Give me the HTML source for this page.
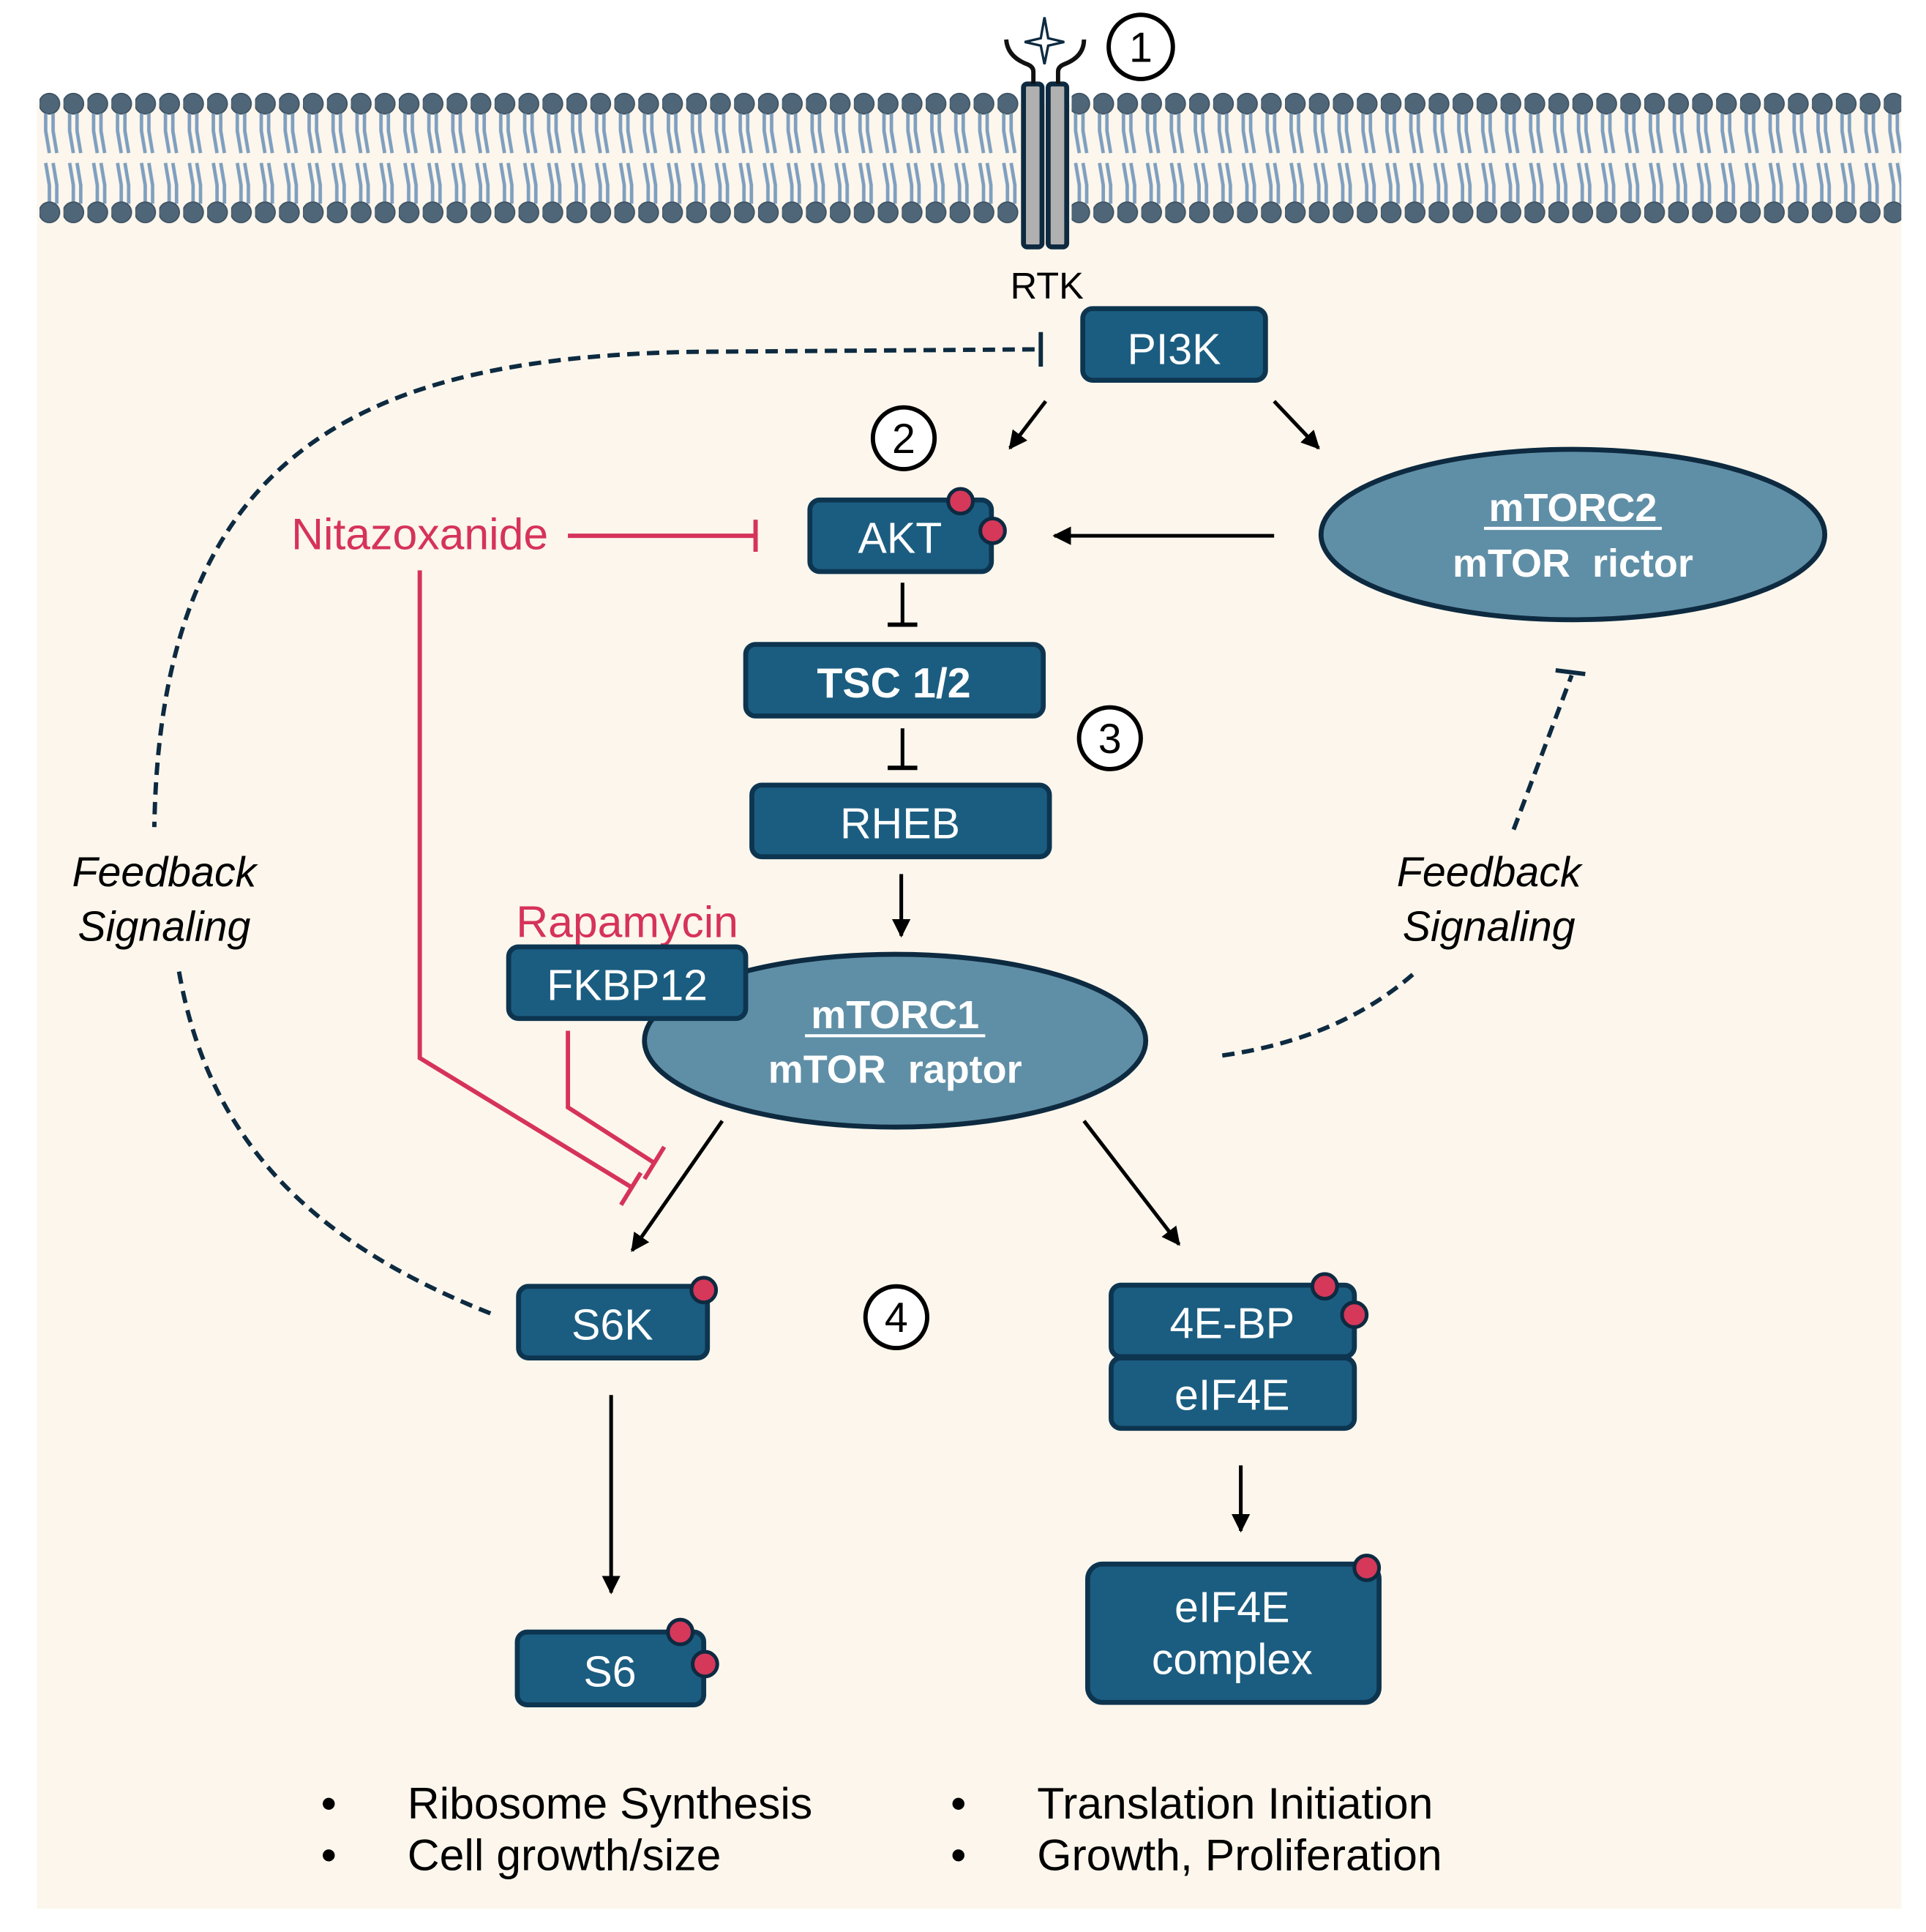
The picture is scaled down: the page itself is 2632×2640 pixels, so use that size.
<!DOCTYPE html>
<html><head><meta charset="utf-8"><style>
html,body{margin:0;padding:0;background:#fff;}
svg{display:block;}
text{font-family:"Liberation Sans",sans-serif;}
</style></head><body>
<svg width="2632" height="2640" viewBox="0 0 1560 1565" preserveAspectRatio="none" xmlns="http://www.w3.org/2000/svg">
<defs>
<pattern id="lip" x="32" y="0" width="19.4" height="200" patternUnits="userSpaceOnUse">
<circle cx="8" cy="84" r="8.3" fill="#4f6679" stroke="#3c5060" stroke-width="1"/>
<path d="M5 92 V106 L8 124 M11 92 V106 L14 124" stroke="#7f9fbf" stroke-width="2.8" fill="none"/>
<path d="M5 132 L8 150 V165 M11 132 L14 150 V165" stroke="#7f9fbf" stroke-width="2.8" fill="none"/>
<circle cx="8" cy="172" r="8.3" fill="#4f6679" stroke="#3c5060" stroke-width="1"/>
</pattern>
<marker id="ar" viewBox="0 0 10 10" refX="9" refY="5" markerWidth="5" markerHeight="5" orient="auto-start-reverse">
<path d="M0 0 L10 5 L0 10 Z" fill="#000"/></marker>
</defs>
<rect x="30" y="84" width="1510" height="1462" fill="#fcf6ec"/>
<rect x="30" y="70" width="795" height="115" fill="url(#lip)"/>
<rect x="868" y="70" width="672" height="115" fill="url(#lip)"/>
<!-- receptor -->
<rect x="829" y="68" width="15" height="132" rx="3" fill="#b0b0b0" stroke="#0d2a40" stroke-width="4"/>
<rect x="849" y="68" width="15" height="132" rx="3" fill="#b0b0b0" stroke="#0d2a40" stroke-width="4"/>
<path d="M837 68 V58 Q837 54 832 52 Q816 46 815 32 M857 68 V58 Q857 54 862 52 Q878 46 878 32" stroke="#111" stroke-width="3.5" fill="none"/>
<path d="M846 14 L849 31 L862 34 L849 37 L846 52 L843 37 L830 34 L843 31 Z" fill="#fff" stroke="#0d2a40" stroke-width="2"/>
<circle cx="924" cy="38" r="26" fill="#fff" stroke="#000" stroke-width="3.5"/>
<text x="924" y="50" font-size="34" text-anchor="middle">1</text>
<text x="848" y="242" font-size="30" text-anchor="middle">RTK</text>
<!-- dashed feedback left top -->
<path d="M838 283 L560 285 C300 290 130 360 125 670" fill="none" stroke="#0d2a40" stroke-width="3.5" stroke-dasharray="10 6"/>
<line x1="843" y1="269" x2="843" y2="297" stroke="#0d2a40" stroke-width="3.5"/>
<path d="M145 787 C170 930 260 1010 400 1065" fill="none" stroke="#0d2a40" stroke-width="3.5" stroke-dasharray="10 6"/>
<!-- right dashed -->
<path d="M990 855 C1060 845 1110 820 1147 787" fill="none" stroke="#0d2a40" stroke-width="3.5" stroke-dasharray="10 6"/>
<path d="M1226 672 L1273 547" fill="none" stroke="#0d2a40" stroke-width="3.5" stroke-dasharray="10 6"/>
<line x1="1260" y1="543" x2="1284" y2="546" stroke="#0d2a40" stroke-width="3.5"/>
<!-- PI3K -->
<rect x="877" y="250" width="148" height="58" rx="8" fill="#1b5d80" stroke="#0d3550" stroke-width="4"/>
<text x="951" y="295" font-size="35" fill="#fff" text-anchor="middle">PI3K</text>
<line x1="847" y1="325" x2="818" y2="363" stroke="#000" stroke-width="3" marker-end="url(#ar)"/>
<line x1="1032" y1="325" x2="1068" y2="363" stroke="#000" stroke-width="3" marker-end="url(#ar)"/>
<circle cx="732" cy="355" r="25" fill="#fff" stroke="#000" stroke-width="3.5"/>
<text x="732" y="367" font-size="34" text-anchor="middle">2</text>
<!-- mTORC2 -->
<ellipse cx="1274" cy="433" rx="204" ry="69" fill="#5f8fa6" stroke="#0d2a40" stroke-width="4"/>
<text x="1274" y="422" font-size="32" font-weight="bold" fill="#fff" text-anchor="middle">mTORC2</text>
<line x1="1202" y1="428" x2="1346" y2="428" stroke="#fff" stroke-width="2.5"/>
<text x="1274" y="467" font-size="32" font-weight="bold" fill="#fff" text-anchor="middle">mTOR&#160;&#160;rictor</text>
<line x1="1032" y1="434" x2="854" y2="434" stroke="#000" stroke-width="3" marker-end="url(#ar)"/>
<!-- AKT -->
<rect x="656" y="405" width="147" height="58" rx="8" fill="#1b5d80" stroke="#0d3550" stroke-width="4"/>
<text x="729" y="448" font-size="35" fill="#fff" text-anchor="middle">AKT</text>
<circle cx="778" cy="406" r="10" fill="#d6385a" stroke="#0d2a40" stroke-width="3"/>
<circle cx="804" cy="430" r="10" fill="#d6385a" stroke="#0d2a40" stroke-width="3"/>
<text x="340" y="445" font-size="36" fill="#d6335a" text-anchor="middle">Nitazoxanide</text>
<line x1="460" y1="434" x2="612" y2="434" stroke="#d6335a" stroke-width="3.5"/>
<line x1="612" y1="421" x2="612" y2="447" stroke="#d6335a" stroke-width="3.5"/>
<!-- T inhibit -->
<line x1="731" y1="472" x2="731" y2="506" stroke="#000" stroke-width="3"/>
<line x1="719" y1="506" x2="743" y2="506" stroke="#000" stroke-width="3.5"/>
<rect x="604" y="522" width="241" height="58" rx="8" fill="#1b5d80" stroke="#0d3550" stroke-width="4"/>
<text x="724" y="565" font-size="34" font-weight="bold" fill="#fff" text-anchor="middle">TSC 1/2</text>
<circle cx="899" cy="598" r="25" fill="#fff" stroke="#000" stroke-width="3.5"/>
<text x="899" y="610" font-size="34" text-anchor="middle">3</text>
<line x1="731" y1="590" x2="731" y2="622" stroke="#000" stroke-width="3"/>
<line x1="719" y1="622" x2="743" y2="622" stroke="#000" stroke-width="3.5"/>
<rect x="609" y="636" width="241" height="58" rx="8" fill="#1b5d80" stroke="#0d3550" stroke-width="4"/>
<text x="729" y="679" font-size="35" fill="#fff" text-anchor="middle">RHEB</text>
<line x1="730" y1="708" x2="730" y2="758" stroke="#000" stroke-width="3" marker-end="url(#ar)"/>
<!-- feedback labels -->
<text x="133" y="718" font-size="34" font-style="italic" text-anchor="middle">Feedback</text>
<text x="133" y="762" font-size="34" font-style="italic" text-anchor="middle">Signaling</text>
<text x="1206" y="718" font-size="34" font-style="italic" text-anchor="middle">Feedback</text>
<text x="1206" y="762" font-size="34" font-style="italic" text-anchor="middle">Signaling</text>
<!-- mTORC1 -->
<ellipse cx="725" cy="843" rx="203" ry="70" fill="#5f8fa6" stroke="#0d2a40" stroke-width="4"/>
<text x="725" y="833" font-size="32" font-weight="bold" fill="#fff" text-anchor="middle">mTORC1</text>
<line x1="652" y1="839" x2="798" y2="839" stroke="#fff" stroke-width="2.5"/>
<text x="725" y="877" font-size="32" font-weight="bold" fill="#fff" text-anchor="middle">mTOR&#160;&#160;raptor</text>
<text x="508" y="759" font-size="36" fill="#d6335a" text-anchor="middle">Rapamycin</text>
<rect x="412" y="767" width="192" height="58" rx="8" fill="#1b5d80" stroke="#0d3550" stroke-width="4"/>
<text x="508" y="810" font-size="35" fill="#fff" text-anchor="middle">FKBP12</text>
<!-- red inhibitions -->
<path d="M340 462 V857 L512 962" fill="none" stroke="#d6335a" stroke-width="3.5"/>
<line x1="503" y1="976" x2="519" y2="950" stroke="#d6335a" stroke-width="3.5"/>
<path d="M460 835 V897 L530 942" fill="none" stroke="#d6335a" stroke-width="3.5"/>
<line x1="522" y1="955" x2="538" y2="929" stroke="#d6335a" stroke-width="3.5"/>
<line x1="585" y1="908" x2="512" y2="1013" stroke="#000" stroke-width="3" marker-end="url(#ar)"/>
<line x1="878" y1="908" x2="955" y2="1008" stroke="#000" stroke-width="3" marker-end="url(#ar)"/>
<!-- S6K -->
<rect x="420" y="1042" width="153" height="58" rx="8" fill="#1b5d80" stroke="#0d3550" stroke-width="4"/>
<text x="496" y="1085" font-size="35" fill="#fff" text-anchor="middle">S6K</text>
<circle cx="570" cy="1045" r="10" fill="#d6385a" stroke="#0d2a40" stroke-width="3"/>
<circle cx="726" cy="1067" r="25" fill="#fff" stroke="#000" stroke-width="3.5"/>
<text x="726" y="1079" font-size="34" text-anchor="middle">4</text>
<!-- 4E-BP -->
<rect x="900" y="1041" width="197" height="58" rx="8" fill="#1b5d80" stroke="#0d3550" stroke-width="4"/>
<text x="998" y="1084" font-size="35" fill="#fff" text-anchor="middle">4E-BP</text>
<rect x="900" y="1100" width="197" height="57" rx="8" fill="#1b5d80" stroke="#0d3550" stroke-width="4"/>
<text x="998" y="1142" font-size="35" fill="#fff" text-anchor="middle">eIF4E</text>
<circle cx="1073" cy="1042" r="10" fill="#d6385a" stroke="#0d2a40" stroke-width="3"/>
<circle cx="1097" cy="1065" r="10" fill="#d6385a" stroke="#0d2a40" stroke-width="3"/>
<line x1="495" y1="1130" x2="495" y2="1290" stroke="#000" stroke-width="3" marker-end="url(#ar)"/>
<line x1="1005" y1="1187" x2="1005" y2="1240" stroke="#000" stroke-width="3" marker-end="url(#ar)"/>
<!-- S6 -->
<rect x="419" y="1322" width="151" height="59" rx="8" fill="#1b5d80" stroke="#0d3550" stroke-width="4"/>
<text x="494" y="1366" font-size="35" fill="#fff" text-anchor="middle">S6</text>
<circle cx="551" cy="1322" r="10" fill="#d6385a" stroke="#0d2a40" stroke-width="3"/>
<circle cx="571" cy="1348" r="10" fill="#d6385a" stroke="#0d2a40" stroke-width="3"/>
<!-- eIF4E complex -->
<rect x="881" y="1267" width="236" height="112" rx="12" fill="#1b5d80" stroke="#0d3550" stroke-width="4"/>
<text x="998" y="1314" font-size="35" fill="#fff" text-anchor="middle">eIF4E</text>
<text x="998" y="1356" font-size="35" fill="#fff" text-anchor="middle">complex</text>
<circle cx="1107" cy="1270" r="10" fill="#d6385a" stroke="#0d2a40" stroke-width="3"/>
<!-- bullets -->
<g font-size="36">
<text x="260" y="1473">•</text><text x="330" y="1473">Ribosome Synthesis</text>
<text x="260" y="1515">•</text><text x="330" y="1515">Cell growth/size</text>
<text x="770" y="1473">•</text><text x="840" y="1473">Translation Initiation</text>
<text x="770" y="1515">•</text><text x="840" y="1515">Growth, Proliferation</text>
</g>
</svg>
</body></html>
